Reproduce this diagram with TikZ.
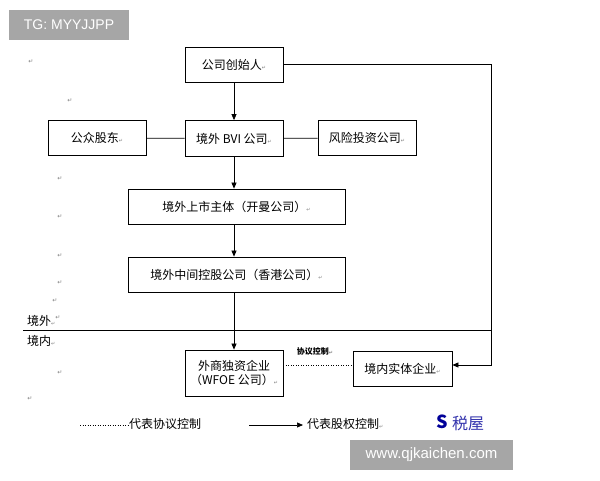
\documentclass[tikz,border=0pt]{standalone}
\usepackage{fontspec}
\setmainfont{Liberation Sans}
\newfontfamily\cjk{Noto Sans CJK SC}
\newfontfamily\dv{DejaVu Sans}
\usetikzlibrary{arrows.meta}
\begin{document}
\begin{tikzpicture}[x=1pt,y=-1pt,
  box/.style={draw,line width=0.8pt,minimum height=35pt,font=\cjk\fontsize{12}{14}\selectfont,inner sep=0pt},
  arr/.style={-{Triangle[length=6pt,width=5pt]},line width=0.7pt},
  ln/.style={line width=0.7pt},
  dots/.style={dotted,line width=0.5pt},
  rm/.style={text=gray,font=\dv\fontsize{6}{6}\selectfont,inner sep=0pt}]
\useasboundingbox (0,0) rectangle (600,480);
\fill[white] (0,0) rectangle (600,480);
% watermark boxes
\node[fill=black!35,text=white,minimum width=120pt,minimum height=30pt,font=\fontsize{14}{16}\selectfont,inner sep=0pt] (tg) at (69,25) {TG: MYYJJPP};
\node[fill=black!35,text=white,minimum width=163pt,minimum height=30pt,font=\fontsize{15}{17}\selectfont,inner sep=0pt] (web) at (431.5,455) {www.qjkaichen.com};
% boxes
\node[box,minimum width=98pt] (f) at (234,64.5) {公司创始人\textcolor{gray}{\dv\tiny↵}};
\node[box,minimum width=98pt,minimum height=36pt] (bvi) at (234,138.5) {境外 BVI 公司\textcolor{gray}{\dv\tiny↵}};
\node[box,minimum width=98pt] (pub) at (97,138) {公众股东\textcolor{gray}{\dv\tiny↵}};
\node[box,minimum width=98pt] (vc) at (367,138) {风险投资公司\textcolor{gray}{\dv\tiny↵}};
\node[box,minimum width=217pt] (lst) at (236.5,206.5) {境外上市主体（开曼公司）\textcolor{gray}{\dv\tiny↵}};
\node[box,minimum width=217pt] (hk) at (236.5,274.5) {境外中间控股公司（香港公司）\textcolor{gray}{\dv\tiny↵}};
\node[box,minimum width=98pt,minimum height=46pt,align=center] (w) at (234,373) {外商独资企业\\（WFOE 公司）\textcolor{gray}{\dv\tiny↵}};
\node[box,minimum width=99pt] (d) at (402.5,368.5) {境内实体企业\textcolor{gray}{\dv\tiny↵}};
% connectors
\draw[arr] (f) -- (bvi);
\draw[arr] (bvi.south) -- (bvi.south|-lst.north);
\draw[arr] (bvi.south|-lst.south) -- (bvi.south|-hk.north);
\draw[arr] (bvi.south|-hk.south) -- (w.north);
\draw[ln] (pub) -- (bvi);
\draw[ln] (bvi) -- (vc);
\coordinate (c1) at (491,64.5);
\coordinate (c2) at (491,365);
\draw[arr] (f.east) -- (c1) -- (c2) -- (d.east|-c2);
\draw[dots] (w.east|-c2) -- (d.west|-c2);
\node[font=\cjk\bfseries\fontsize{8}{9}\selectfont] (xy) at (315,351) {协议控制\textcolor{gray}{\dv\tiny↵}};
% border line
\coordinate (l1) at (23,330);
\coordinate (l2) at (491,330);
\draw[line width=0.8pt] (l1) -- (l2);
\node[font=\cjk\fontsize{12}{14}\selectfont,anchor=west,inner sep=0pt] (jw) at (27,321) {境外\textcolor{gray}{\dv\tiny↵}};
\node[font=\cjk\fontsize{12}{14}\selectfont,anchor=west,inner sep=0pt] (jn) at (27,341) {境内\textcolor{gray}{\dv\tiny↵}};
% legend
\coordinate (a1) at (80,425); \coordinate (a2) at (128,425);
\draw[dots] (a1) -- (a2);
\node[font=\cjk\fontsize{12}{14}\selectfont,anchor=west,inner sep=0pt] (t1) at (129,424) {代表协议控制};
\coordinate (b1) at (249,425); \coordinate (b2) at (303,425);
\draw[arr] (b1) -- (b2);
\node[font=\cjk\fontsize{12}{14}\selectfont,anchor=west,inner sep=0pt] (t2) at (307,424) {代表股权控制\textcolor{gray}{\dv\tiny↵}};
% logo
\node[font=\cjk\bfseries\fontsize{18}{20}\selectfont,text=blue!60!black,inner sep=0pt] (s) at (442,422) {S};
\node[font=\cjk\fontsize{16}{18}\selectfont,text=blue!60!black!80,anchor=west,inner sep=0pt] (lg) at (452,423) {税屋};
% return marks
\foreach \x/\y [count=\i] in {31/62,70/101,60/179,60/217,60/256,60/283,55/301,58/318,60/373,30/399}
  \node[rm] (r\i) at (\x,\y) {↵};
\end{tikzpicture}
\end{document}
